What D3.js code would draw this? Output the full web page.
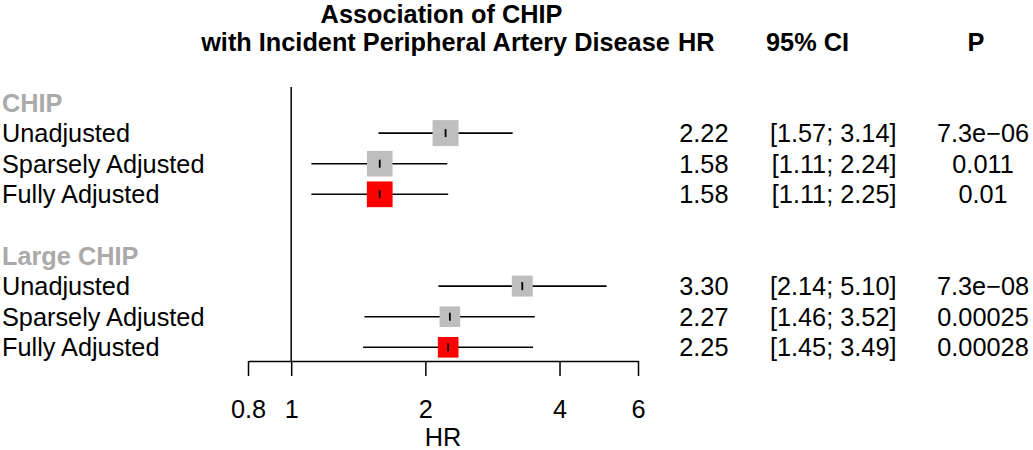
<!DOCTYPE html>
<html>
<head>
<meta charset="utf-8">
<script src="https://cdn.jsdelivr.net/npm/d3@7"></script>
<style>
  html, body { margin: 0; padding: 0; background: #fff; }
  svg text { font-family: "Liberation Sans", Arial, Helvetica, sans-serif; }
</style>
</head>
<body>
<svg id="chart" width="1033" height="450"></svg>
<script>
// ---------------- data ----------------
const groups = ["CHIP", "Large CHIP"];
const models = ["Unadjusted", "Sparsely Adjusted", "Fully Adjusted"];
const hr     = [2.22, 1.58, 1.58, 3.30, 2.27, 2.25];
const lower  = [1.57, 1.11, 1.11, 2.14, 1.46, 1.45];
const upper  = [3.14, 2.24, 2.25, 5.10, 3.52, 3.49];
const pvals  = ["7.3e\u221206", "0.011", "0.01", "7.3e\u221208", "0.00025", "0.00028"];
const weights = [1.00, 0.97, 0.98, 0.65, 0.63, 0.63];
const xTicks = [0.8, 1, 2, 4, 6];
const titleLines = ["Association of CHIP", "with Incident Peripheral Artery Disease"];
const colHeaders = ["HR", "95% CI", "P"];
const xLabel = "HR";

// ---------------- layout ----------------
const svg = d3.select("#chart");
const FS = 25.3;
const font = `${FS}px`;

// rows: header, 3 models, blank, header, 3 models
const rows = [];
groups.forEach((g, gi) => {
  rows.push({ type: "header", label: g });
  models.forEach((m, mi) => {
    const k = gi * models.length + mi;
    rows.push({ type: "est", label: m, model: m, hr: hr[k], lo: lower[k], hi: upper[k], p: pvals[k], w: weights[k] });
  });
  if (gi < groups.length - 1) rows.push({ type: "blank" });
});

const y = d3.scalePoint().domain(d3.range(rows.length)).range([102.5, 347.3]);
const x = d3.scaleLog().domain([0.8, 6]).range([248, 638]);
const box = d3.scaleSqrt().domain([0, 1]).range([0, 26]);

const axisY = 361;
const refTop = 87;

// title
svg.append("text").attr("x", 441.5).attr("y", 22.5).attr("text-anchor", "middle")
  .attr("font-weight", "bold").attr("font-size", font).text(titleLines[0]);
svg.append("text").attr("x", 435.5).attr("y", 51).attr("text-anchor", "middle")
  .attr("font-weight", "bold").attr("font-size", font).text(titleLines[1]);
// column headers
svg.append("text").attr("x", 678).attr("y", 51).attr("font-weight", "bold").attr("font-size", font).text(colHeaders[0]);
svg.append("text").attr("x", 766).attr("y", 51).attr("font-weight", "bold").attr("font-size", font).text(colHeaders[1]);
svg.append("text").attr("x", 976).attr("y", 51).attr("text-anchor", "middle").attr("font-weight", "bold").attr("font-size", font).text(colHeaders[2]);

// reference line at HR = 1
svg.append("line").attr("x1", x(1)).attr("x2", x(1)).attr("y1", refTop).attr("y2", axisY)
  .attr("stroke", "#000").attr("stroke-width", 1.5);

// axis
const axis = d3.axisBottom(x).tickValues(xTicks).tickFormat(d => String(d))
  .tickSize(15).tickSizeOuter(0).tickPadding(24);
const gAxis = svg.append("g").attr("transform", `translate(0,${axisY})`).call(axis);
gAxis.select(".domain").attr("stroke", "#000").attr("stroke-width", 1.5);
gAxis.selectAll(".tick line").attr("stroke", "#000").attr("stroke-width", 1.5);
gAxis.selectAll(".tick text").attr("font-size", font).attr("fill", "#000")
  .attr("font-family", '"Liberation Sans", Arial, Helvetica, sans-serif');
svg.append("text").attr("x", (x.range()[0] + x.range()[1]) / 2).attr("y", 446)
  .attr("text-anchor", "middle").attr("font-size", font).text(xLabel);

// row labels
rows.forEach((r, i) => {
  if (r.type === "blank") return;
  svg.append("text").attr("x", 2).attr("y", y(i) + 9)
    .attr("font-size", font)
    .attr("font-weight", r.type === "header" ? "bold" : "normal")
    .attr("fill", r.type === "header" ? "#aaaaaa" : "#000")
    .text(r.label);
});

const est = rows.map((r, i) => ({ ...r, i })).filter(r => r.type === "est");

// CI lines
svg.append("g").selectAll("line").data(est).join("line")
  .attr("x1", d => x(d.lo)).attr("x2", d => x(d.hi))
  .attr("y1", d => y(d.i)).attr("y2", d => y(d.i))
  .attr("stroke", "#000").attr("stroke-width", 1.6);

// squares
svg.append("g").selectAll("rect").data(est).join("rect")
  .attr("x", d => x(d.hr) - box(d.w) / 2)
  .attr("y", d => y(d.i) - box(d.w) / 2)
  .attr("width", d => box(d.w)).attr("height", d => box(d.w))
  .attr("fill", d => d.model === "Fully Adjusted" ? "#ff0000" : "#bebebe");

// point ticks
svg.append("g").selectAll("line").data(est).join("line")
  .attr("x1", d => x(d.hr)).attr("x2", d => x(d.hr))
  .attr("y1", d => y(d.i) - 4).attr("y2", d => y(d.i) + 4)
  .attr("stroke", "#000").attr("stroke-width", 1.8);

// right columns
const fmt = d3.format(".2f");
svg.append("g").selectAll("text").data(est).join("text")
  .attr("x", 728.5).attr("y", d => y(d.i) + 9).attr("text-anchor", "end")
  .attr("font-size", font).text(d => fmt(d.hr));
svg.append("g").selectAll("text").data(est).join("text")
  .attr("x", 896.5).attr("y", d => y(d.i) + 9).attr("text-anchor", "end")
  .attr("font-size", font).text(d => `[${fmt(d.lo)}; ${fmt(d.hi)}]`);
svg.append("g").selectAll("text").data(est).join("text")
  .attr("x", 983).attr("y", d => y(d.i) + 9).attr("text-anchor", "middle")
  .attr("font-size", font).text(d => d.p);
</script>
</body>
</html>
